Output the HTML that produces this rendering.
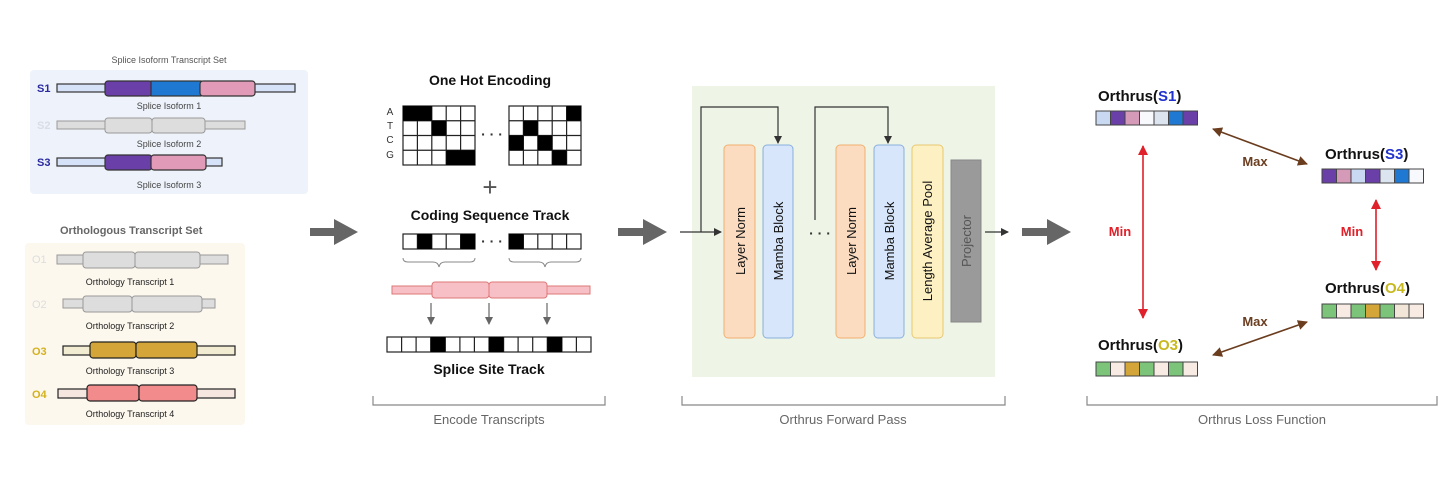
<!DOCTYPE html>
<html><head><meta charset="utf-8"><style>
html,body{margin:0;padding:0;background:#fff;}
svg{display:block;font-family:"Liberation Sans",Arial,sans-serif;}
</style></head><body>
<svg width="1456" height="488" viewBox="0 0 1456 488" xmlns="http://www.w3.org/2000/svg">
<defs>
<marker id="ah" markerWidth="8" markerHeight="8" refX="7" refY="4" orient="auto" markerUnits="userSpaceOnUse"><path d="M0,0 L8,4 L0,8 Z" fill="#333"/></marker>
<marker id="ahg" markerWidth="8" markerHeight="8" refX="7" refY="4" orient="auto" markerUnits="userSpaceOnUse"><path d="M0,0 L8,4 L0,8 Z" fill="#666"/></marker>
<marker id="ar" markerWidth="10" markerHeight="10" refX="9" refY="5" orient="auto-start-reverse" markerUnits="userSpaceOnUse"><path d="M0,0 L10,5 L0,10 Z" fill="#e0202a"/></marker>
<marker id="ab" markerWidth="10" markerHeight="10" refX="9" refY="5" orient="auto-start-reverse" markerUnits="userSpaceOnUse"><path d="M0,0 L10,5 L0,10 Z" fill="#6b3d1f"/></marker>
</defs>

<!-- Splice set -->
<text x="169" y="63" font-size="9" text-anchor="middle" fill="#555">Splice Isoform Transcript Set</text>
<rect x="30" y="70" width="278" height="124" rx="4" fill="#eef3fb"/>
<g stroke="#333" stroke-width="1.2">
<text x="37" y="92" font-size="11" font-weight="bold" fill="#2a2aa0" stroke="none">S1</text>
<rect x="57" y="84" width="238" height="8" fill="#d6e2f8"/>
<rect x="105" y="81" width="47" height="15" rx="3" fill="#6a3fa8"/>
<rect x="151" y="81" width="50" height="15" fill="#1f78d1"/>
<rect x="200" y="81" width="55" height="15" rx="3" fill="#e19ab8"/>
</g>
<text x="169" y="109" font-size="9" text-anchor="middle" fill="#444">Splice Isoform 1</text>
<g stroke="#999" stroke-width="1">
<text x="37" y="129" font-size="11" font-weight="bold" fill="#d8dde6" stroke="none">S2</text>
<rect x="57" y="121" width="188" height="8" fill="#ddd"/>
<rect x="105" y="118" width="47" height="15" rx="3" fill="#ddd"/>
<rect x="152" y="118" width="53" height="15" rx="3" fill="#ddd"/>
</g>
<text x="169" y="147" font-size="9" text-anchor="middle" fill="#444">Splice Isoform 2</text>
<g stroke="#333" stroke-width="1.2">
<text x="37" y="166" font-size="11" font-weight="bold" fill="#2a2aa0" stroke="none">S3</text>
<rect x="57" y="158" width="165" height="8" fill="#d6e2f8"/>
<rect x="105" y="155" width="47" height="15" rx="3" fill="#6a3fa8"/>
<rect x="151" y="155" width="55" height="15" rx="3" fill="#e19ab8"/>
</g>
<text x="169" y="188" font-size="9" text-anchor="middle" fill="#444">Splice Isoform 3</text>

<!-- Ortho set -->
<text x="60" y="234" font-size="11" font-weight="bold" fill="#666">Orthologous Transcript Set</text>
<rect x="25" y="243" width="220" height="182" rx="4" fill="#fdf8ee"/>
<g stroke="#999" stroke-width="1">
<text x="32" y="263" font-size="11" fill="#ddd" stroke="none">O1</text>
<rect x="57" y="255" width="171" height="9" fill="#ddd"/>
<rect x="83" y="252" width="52" height="16" rx="3" fill="#ddd"/>
<rect x="135" y="252" width="65" height="16" rx="3" fill="#ddd"/>
<text x="32" y="308" font-size="11" fill="#ddd" stroke="none">O2</text>
<rect x="63" y="299" width="152" height="9" fill="#ddd"/>
<rect x="83" y="296" width="49" height="16" rx="3" fill="#ddd"/>
<rect x="132" y="296" width="70" height="16" rx="3" fill="#ddd"/>
</g>
<text x="130" y="285" font-size="9" text-anchor="middle" fill="#222">Orthology Transcript 1</text>
<text x="130" y="329" font-size="9" text-anchor="middle" fill="#222">Orthology Transcript 2</text>
<g stroke="#222" stroke-width="1.2">
<text x="32" y="355" font-size="11" font-weight="bold" fill="#d4b01e" stroke="none">O3</text>
<rect x="63" y="346" width="172" height="9" fill="#f2ecd2"/>
<rect x="90" y="342" width="46" height="16" rx="3" fill="#d4a63a"/>
<rect x="136" y="342" width="61" height="16" rx="3" fill="#d4a63a"/>
<text x="32" y="398" font-size="11" font-weight="bold" fill="#d4b01e" stroke="none">O4</text>
<rect x="58" y="389" width="177" height="9" fill="#f6e6e0"/>
<rect x="87" y="385" width="52" height="16" rx="3" fill="#f28c8c"/>
<rect x="139" y="385" width="58" height="16" rx="3" fill="#f28c8c"/>
</g>
<text x="130" y="374" font-size="9" text-anchor="middle" fill="#222">Orthology Transcript 3</text>
<text x="130" y="417" font-size="9" text-anchor="middle" fill="#222">Orthology Transcript 4</text>

<!-- big arrows -->
<g fill="#666">
<path d="M310,228 H334 V219 L358,232 L334,245 V236 H310 Z"/>
<path d="M618,228 H643 V219 L667,232 L643,245 V236 H618 Z"/>
<path d="M1022,228 H1047 V219 L1071,232 L1047,245 V236 H1022 Z"/>
</g>

<!-- Encode -->
<text x="490" y="85" font-size="14" font-weight="bold" text-anchor="middle" fill="#111">One Hot Encoding</text>
<g font-size="10" fill="#333" text-anchor="middle"><text x="390" y="115">A</text><text x="390" y="129">T</text><text x="390" y="143">C</text><text x="390" y="158">G</text></g>
<g stroke="#222" stroke-width="1.2" fill="#fff">
<!-- left grid -->
<rect x="403" y="106" width="72" height="59"/>
<path d="M417.4,106V165M431.8,106V165M446.2,106V165M460.6,106V165M403,120.75H475M403,135.5H475M403,150.25H475"/>
<rect x="509" y="106" width="72" height="59"/>
<path d="M523.4,106V165M537.8,106V165M552.2,106V165M566.6,106V165M509,120.75H581M509,135.5H581M509,150.25H581"/>
</g>
<g fill="#000">
<rect x="403" y="106" width="28.8" height="14.75"/>
<rect x="431.8" y="120.75" width="14.4" height="14.75"/>
<rect x="446.2" y="150.25" width="28.8" height="14.75"/>
<rect x="566.6" y="106" width="14.4" height="14.75"/>
<rect x="523.4" y="120.75" width="14.4" height="14.75"/>
<rect x="509" y="135.5" width="14.4" height="14.75"/>
<rect x="537.8" y="135.5" width="14.4" height="14.75"/>
<rect x="552.2" y="150.25" width="14.4" height="14.75"/>
</g>
<text x="492" y="139" font-size="14" font-weight="bold" text-anchor="middle" fill="#333">· · ·</text>
<text x="490" y="196" font-size="26" text-anchor="middle" fill="#555">+</text>
<text x="490" y="220" font-size="14" font-weight="bold" text-anchor="middle" fill="#111">Coding Sequence Track</text>
<g stroke="#222" stroke-width="1.2" fill="#fff">
<rect x="403" y="234" width="72" height="15"/>
<path d="M417.4,234V249M431.8,234V249M446.2,234V249M460.6,234V249"/>
<rect x="509" y="234" width="72" height="15"/>
<path d="M523.4,234V249M537.8,234V249M552.2,234V249M566.6,234V249"/>
</g>
<g fill="#000"><rect x="417.4" y="234" width="14.4" height="15"/><rect x="460.6" y="234" width="14.4" height="15"/><rect x="509" y="234" width="14.4" height="15"/></g>
<text x="492" y="246" font-size="14" font-weight="bold" text-anchor="middle" fill="#333">· · ·</text>
<g stroke="#888" fill="none" stroke-width="1">
<path d="M403,258 q0,4 5,4 H433 q5,0 6,5 q1,-5 6,-5 H470 q5,0 5,-4"/>
<path d="M509,258 q0,4 5,4 H539 q5,0 6,5 q1,-5 6,-5 H576 q5,0 5,-4"/>
</g>
<g stroke="#d77" stroke-width="1" fill="#f7c0c6">
<rect x="392" y="286" width="198" height="8"/>
<rect x="432" y="282" width="57" height="16" rx="3"/>
<rect x="489" y="282" width="58" height="16" rx="3"/>
</g>
<g stroke="#666" stroke-width="1.2">
<line x1="431" y1="303" x2="431" y2="324" marker-end="url(#ahg)"/>
<line x1="489" y1="303" x2="489" y2="324" marker-end="url(#ahg)"/>
<line x1="547" y1="303" x2="547" y2="324" marker-end="url(#ahg)"/>
</g>
<g stroke="#222" stroke-width="1.2" fill="#fff">
<rect x="387" y="337" width="204" height="15"/>
<path d="M401.6,337V352M416.1,337V352M430.7,337V352M445.3,337V352M459.9,337V352M474.4,337V352M489,337V352M503.6,337V352M518.1,337V352M532.7,337V352M547.3,337V352M561.9,337V352M576.4,337V352"/>
</g>
<g fill="#000"><rect x="430.7" y="337" width="14.6" height="15"/><rect x="489" y="337" width="14.6" height="15"/><rect x="547.3" y="337" width="14.6" height="15"/></g>
<text x="489" y="374" font-size="14" font-weight="bold" text-anchor="middle" fill="#111">Splice Site Track</text>

<!-- brackets -->
<g stroke="#888" fill="none" stroke-width="1.2">
<path d="M373,396V405H605V396"/>
<path d="M682,396V405H1005V396"/>
<path d="M1087,396V405H1437V396"/>
</g>
<g font-size="13" fill="#666" text-anchor="middle">
<text x="489" y="424">Encode Transcripts</text>
<text x="843" y="424">Orthrus Forward Pass</text>
<text x="1262" y="424">Orthrus Loss Function</text>
</g>

<!-- Forward pass -->
<rect x="692" y="86" width="303" height="291" fill="#eef5e7"/>
<g stroke-width="1">
<rect x="724" y="145" width="31" height="193" rx="4" fill="#fcdcc0" stroke="#f0b070"/>
<rect x="763" y="145" width="30" height="193" rx="4" fill="#d8e6fb" stroke="#88aede"/>
<rect x="836" y="145" width="29" height="193" rx="4" fill="#fcdcc0" stroke="#f0b070"/>
<rect x="874" y="145" width="30" height="193" rx="4" fill="#d8e6fb" stroke="#88aede"/>
<rect x="912" y="145" width="31" height="193" rx="4" fill="#fdf0c2" stroke="#e8c870"/>
<rect x="951" y="160" width="30" height="162" fill="#9a9a9a" stroke="#888"/>
</g>
<g font-size="13" fill="#111" text-anchor="middle">
<text transform="translate(745,241) rotate(-90)">Layer Norm</text>
<text transform="translate(783,241) rotate(-90)">Mamba Block</text>
<text transform="translate(856,241) rotate(-90)">Layer Norm</text>
<text transform="translate(894,241) rotate(-90)">Mamba Block</text>
<text transform="translate(932,241) rotate(-90)">Length Average Pool</text>
<text transform="translate(971,241) rotate(-90)" fill="#555">Projector</text>
</g>
<g stroke="#333" stroke-width="1.2" fill="none">
<line x1="680" y1="232" x2="721" y2="232" marker-end="url(#ah)"/>
<path d="M701,232V107H778V143" marker-end="url(#ah)"/>
<path d="M815,220V107H888V143" marker-end="url(#ah)"/>
<line x1="985" y1="232" x2="1008" y2="232" marker-end="url(#ah)"/>
</g>
<text x="820" y="238" font-size="14" font-weight="bold" text-anchor="middle" fill="#333">· · ·</text>

<!-- Loss -->
<g font-size="15" font-weight="bold" fill="#111">
<text x="1098" y="101">Orthrus(<tspan fill="#2233cc">S1</tspan>)</text>
<text x="1325" y="159">Orthrus(<tspan fill="#2233cc">S3</tspan>)</text>
<text x="1325" y="293">Orthrus(<tspan fill="#c8b820">O4</tspan>)</text>
<text x="1098" y="350">Orthrus(<tspan fill="#c8b820">O3</tspan>)</text>
</g>
<g stroke="#444" stroke-width="1">
<rect x="1096" y="111" width="14.5" height="14" fill="#c9d9f2"/><rect x="1110.5" y="111" width="14.5" height="14" fill="#6a3fa8"/><rect x="1125" y="111" width="14.5" height="14" fill="#d59ab8"/><rect x="1139.5" y="111" width="14.5" height="14" fill="#f7f9fd"/><rect x="1154" y="111" width="14.5" height="14" fill="#dce4f0"/><rect x="1168.5" y="111" width="14.5" height="14" fill="#1f78d1"/><rect x="1183" y="111" width="14.5" height="14" fill="#6a3fa8"/>
<rect x="1322" y="169" width="14.5" height="14" fill="#6a3fa8"/><rect x="1336.5" y="169" width="14.5" height="14" fill="#d59ab8"/><rect x="1351" y="169" width="14.5" height="14" fill="#c9d9f2"/><rect x="1365.5" y="169" width="14.5" height="14" fill="#6a3fa8"/><rect x="1380" y="169" width="14.5" height="14" fill="#dce4f0"/><rect x="1394.5" y="169" width="14.5" height="14" fill="#1f78d1"/><rect x="1409" y="169" width="14.5" height="14" fill="#f7f9fd"/>
<rect x="1322" y="304" width="14.5" height="14" fill="#7cc47a"/><rect x="1336.5" y="304" width="14.5" height="14" fill="#f8ebe4"/><rect x="1351" y="304" width="14.5" height="14" fill="#7cc47a"/><rect x="1365.5" y="304" width="14.5" height="14" fill="#d4a63a"/><rect x="1380" y="304" width="14.5" height="14" fill="#7cc47a"/><rect x="1394.5" y="304" width="14.5" height="14" fill="#f2e6d8"/><rect x="1409" y="304" width="14.5" height="14" fill="#f8ebe4"/>
<rect x="1096" y="362" width="14.5" height="14" fill="#7cc47a"/><rect x="1110.5" y="362" width="14.5" height="14" fill="#f8ebe4"/><rect x="1125" y="362" width="14.5" height="14" fill="#d4a63a"/><rect x="1139.5" y="362" width="14.5" height="14" fill="#7cc47a"/><rect x="1154" y="362" width="14.5" height="14" fill="#f8ebe4"/><rect x="1168.5" y="362" width="14.5" height="14" fill="#7cc47a"/><rect x="1183" y="362" width="14.5" height="14" fill="#f8ebe4"/>
</g>
<g stroke-width="1.6" fill="none">
<line x1="1143" y1="146" x2="1143" y2="318" stroke="#e0202a" marker-start="url(#ar)" marker-end="url(#ar)"/>
<line x1="1376" y1="200" x2="1376" y2="270" stroke="#e0202a" marker-start="url(#ar)" marker-end="url(#ar)"/>
<line x1="1213" y1="129" x2="1307" y2="164" stroke="#6b3d1f" marker-start="url(#ab)" marker-end="url(#ab)"/>
<line x1="1213" y1="355" x2="1307" y2="322" stroke="#6b3d1f" marker-start="url(#ab)" marker-end="url(#ab)"/>
</g>
<g font-size="13" font-weight="bold">
<text x="1120" y="236" fill="#e0202a" text-anchor="middle">Min</text>
<text x="1352" y="236" fill="#e0202a" text-anchor="middle">Min</text>
<text x="1255" y="166" fill="#6b3d1f" text-anchor="middle">Max</text>
<text x="1255" y="326" fill="#6b3d1f" text-anchor="middle">Max</text>
</g>
</svg>
</body></html>
